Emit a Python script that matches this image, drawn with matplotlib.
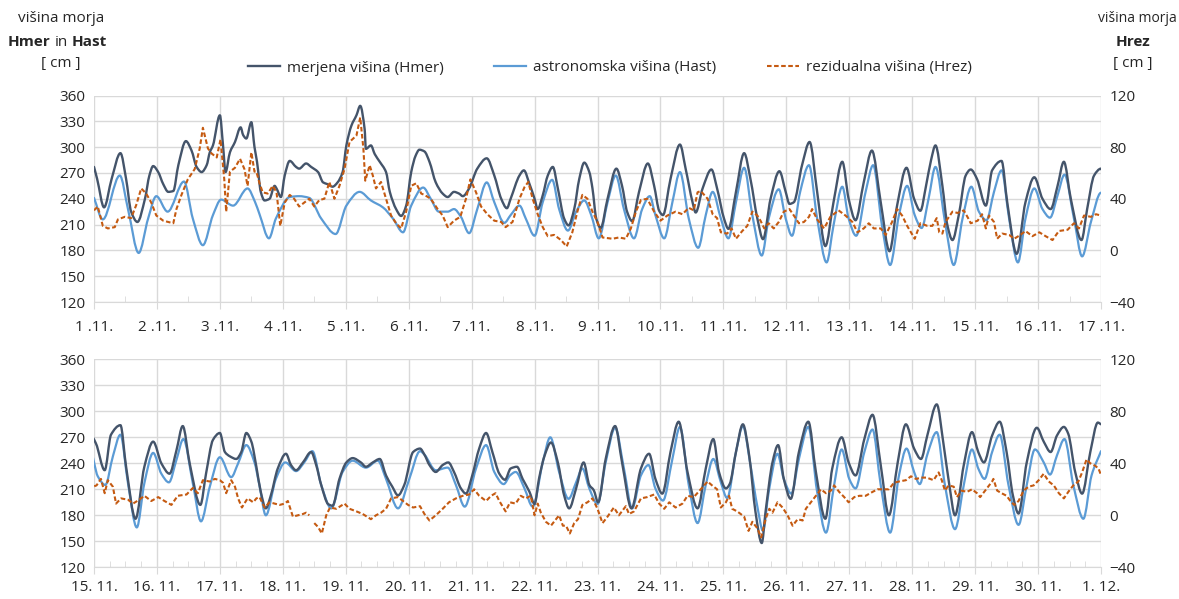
import numpy as np
import matplotlib
matplotlib.use("Agg")
import matplotlib.pyplot as plt
from matplotlib.lines import Line2D
from matplotlib.path import Path
from matplotlib.patches import PathPatch
from matplotlib.ticker import MultipleLocator

plt.rcParams["font.family"] = ["Open Sans", "DejaVu Sans"]
plt.rcParams["font.size"] = 11

# x = dan v mesecu (1.11. = 1, 1.12. = 31)
# merjena višina Hmer [cm]
HMER = [
    (1.00, 277), (1.05, 263), (1.16, 230), (1.28, 263), (1.42, 293), (1.51, 263), (1.59, 225),
    (1.69, 213), (1.81, 240), (1.88, 267), (1.94, 278), (2.02, 271), (2.10, 257), (2.18, 248),
    (2.26, 249), (2.34, 279), (2.46, 307), (2.55, 296), (2.63, 277), (2.71, 271), (2.79, 279),
    (2.84, 294), (2.89, 302), (3.00, 337), (3.05, 302), (3.09, 271), (3.16, 294), (3.24, 306),
    (3.33, 323), (3.37, 314), (3.42, 310), (3.50, 329), (3.55, 300), (3.59, 283), (3.65, 248),
    (3.71, 238), (3.79, 240), (3.87, 255), (3.90, 252), (3.97, 242), (4.03, 267), (4.11, 284),
    (4.21, 277), (4.26, 275), (4.37, 281), (4.45, 277), (4.56, 271), (4.64, 259), (4.71, 257),
    (4.79, 254), (4.87, 259), (4.95, 271), (5.01, 302), (5.09, 325), (5.17, 337), (5.23, 348),
    (5.30, 321), (5.32, 298), (5.40, 302), (5.46, 292), (5.54, 283), (5.64, 271), (5.70, 248),
    (5.80, 228), (5.88, 220), (5.96, 232), (6.04, 271), (6.11, 290), (6.17, 297), (6.25, 295),
    (6.33, 283), (6.43, 259), (6.54, 246), (6.62, 242), (6.72, 248), (6.80, 246), (6.86, 243),
    (6.96, 252), (7.09, 275), (7.24, 287), (7.36, 267), (7.47, 240), (7.56, 229), (7.62, 240),
    (7.76, 267), (7.83, 273), (7.92, 257), (8.00, 240), (8.05, 228), (8.13, 244), (8.21, 267),
    (8.29, 277), (8.37, 252), (8.47, 217), (8.54, 209), (8.63, 228), (8.71, 263), (8.79, 282),
    (8.87, 271), (8.92, 252), (8.98, 217), (9.05, 206), (9.16, 240), (9.30, 275), (9.39, 255),
    (9.47, 225), (9.55, 214), (9.66, 248), (9.80, 281), (9.90, 255), (9.98, 226), (10.04, 221),
    (10.16, 263), (10.31, 303), (10.40, 275), (10.51, 236), (10.56, 224), (10.67, 252),
    (10.81, 274), (10.90, 252), (11.01, 217), (11.08, 205), (11.20, 248), (11.33, 293),
    (11.43, 263), (11.54, 217), (11.63, 193), (11.75, 240), (11.89, 272), (11.99, 248),
    (12.05, 234), (12.12, 236), (12.25, 279), (12.37, 306), (12.49, 248), (12.62, 185),
    (12.75, 236), (12.89, 283), (12.99, 240), (13.10, 215), (13.23, 259), (13.36, 296),
    (13.50, 236), (13.64, 179), (13.76, 232), (13.91, 276), (14.03, 240), (14.13, 226),
    (14.22, 255), (14.30, 285), (14.37, 302), (14.48, 255), (14.56, 209), (14.64, 192),
    (14.74, 221), (14.85, 267), (14.93, 274), (15.03, 263), (15.17, 232), (15.27, 273),
    (15.42, 284), (15.51, 236), (15.66, 176), (15.80, 236), (15.94, 265), (16.07, 240),
    (16.20, 228), (16.31, 255), (16.41, 283), (16.52, 240), (16.69, 192), (16.78, 228),
    (16.89, 267), (17.00, 275), (17.08, 253), (17.16, 248), (17.26, 245), (17.34, 253),
    (17.42, 275), (17.50, 265), (17.58, 236), (17.65, 207), (17.73, 188), (17.81, 203),
    (17.92, 234), (18.05, 251), (18.13, 238), (18.21, 232), (18.32, 241), (18.45, 253),
    (18.53, 238), (18.61, 215), (18.72, 193), (18.79, 191), (18.90, 222), (19.01, 241),
    (19.11, 246), (19.24, 241), (19.32, 236), (19.43, 241), (19.54, 245), (19.64, 226),
    (19.74, 213), (19.83, 203), (19.93, 215), (20.07, 253), (20.18, 257), (20.25, 250),
    (20.33, 238), (20.43, 230), (20.54, 238), (20.63, 241), (20.72, 230), (20.83, 211),
    (20.91, 205), (21.01, 226), (21.12, 257), (21.23, 275), (21.33, 253), (21.44, 228),
    (21.53, 221), (21.62, 234), (21.72, 236), (21.81, 222), (21.92, 207), (22.00, 193),
    (22.07, 222), (22.16, 249), (22.26, 264), (22.37, 241), (22.47, 203), (22.55, 188),
    (22.66, 211), (22.78, 241), (22.87, 215), (22.94, 209), (23.01, 195), (23.13, 245),
    (23.28, 283), (23.39, 241), (23.54, 188), (23.69, 234), (23.82, 251), (23.92, 222),
    (24.03, 205), (24.16, 253), (24.29, 288), (24.43, 230), (24.59, 188), (24.72, 234),
    (24.84, 268), (24.93, 230), (25.04, 211), (25.10, 216), (25.20, 253), (25.31, 285),
    (25.41, 249), (25.51, 184), (25.61, 148), (25.67, 184), (25.78, 241), (25.87, 261),
    (25.96, 222), (26.07, 199), (26.20, 253), (26.35, 288), (26.47, 230), (26.62, 176),
    (26.73, 234), (26.88, 270), (26.99, 241), (27.10, 226), (27.24, 268), (27.37, 296),
    (27.50, 238), (27.63, 180), (27.77, 241), (27.90, 285), (28.03, 257), (28.14, 245),
    (28.24, 272), (28.39, 308), (28.50, 261), (28.59, 215), (28.68, 180), (28.82, 238),
    (28.95, 276), (29.05, 253), (29.14, 241), (29.27, 272), (29.39, 288), (29.50, 253),
    (29.60, 203), (29.69, 182), (29.82, 241), (29.98, 281), (30.09, 265), (30.20, 253),
    (30.30, 272), (30.41, 282), (30.48, 274), (30.59, 230), (30.70, 205), (30.83, 253),
    (30.95, 287), (31.00, 285),
]

# astronomska višina Hast [cm]
HAST = [
    (1.00, 241), (1.14, 216), (1.41, 267), (1.54, 228), (1.71, 177), (1.86, 217), (1.99, 243),
    (2.17, 225), (2.43, 260), (2.57, 217), (2.73, 186), (2.89, 221), (3.02, 239), (3.21, 232),
    (3.44, 252), (3.56, 236), (3.63, 222), (3.78, 194), (3.89, 217), (4.11, 242), (4.26, 243),
    (4.42, 241), (4.61, 217), (4.84, 199), (5.01, 232), (5.22, 248), (5.40, 238), (5.59, 230),
    (5.75, 217), (5.91, 201), (6.04, 232), (6.23, 253), (6.35, 240), (6.48, 225), (6.62, 225),
    (6.72, 228), (6.83, 219), (6.96, 200), (7.09, 228), (7.24, 259), (7.36, 236), (7.52, 212),
    (7.62, 221), (7.76, 232), (7.86, 217), (8.00, 197), (8.13, 236), (8.28, 262), (8.39, 228),
    (8.53, 203), (8.66, 225), (8.79, 238), (8.90, 221), (9.02, 194), (9.16, 236), (9.29, 267),
    (9.42, 228), (9.58, 194), (9.71, 228), (9.83, 243), (9.92, 221), (10.06, 194), (10.19, 236),
    (10.31, 271), (10.45, 217), (10.60, 183), (10.72, 221), (10.83, 248), (10.96, 217),
    (11.08, 194), (11.20, 236), (11.33, 276), (11.46, 221), (11.61, 174), (11.72, 217),
    (11.88, 251), (11.99, 217), (12.09, 197), (12.22, 248), (12.36, 279), (12.49, 217),
    (12.64, 166), (12.75, 209), (12.89, 254), (12.99, 217), (13.11, 197), (13.26, 248),
    (13.38, 279), (13.52, 209), (13.65, 163), (13.79, 221), (13.92, 255), (14.04, 221),
    (14.15, 206), (14.26, 240), (14.37, 277), (14.53, 209), (14.66, 163), (14.80, 217),
    (14.94, 254), (15.06, 225), (15.18, 215), (15.30, 248), (15.42, 273), (15.54, 217),
    (15.68, 166), (15.80, 217), (15.94, 252), (16.07, 228), (16.19, 218), (16.31, 244),
    (16.42, 268), (16.57, 217), (16.70, 173), (16.84, 213), (17.00, 247), (17.18, 224),
    (17.29, 240), (17.42, 261), (17.55, 241), (17.63, 214), (17.73, 180), (17.89, 222),
    (18.04, 241), (18.21, 231), (18.34, 241), (18.47, 254), (18.61, 215), (18.77, 188),
    (18.95, 230), (19.11, 243), (19.32, 235), (19.51, 243), (19.64, 222), (19.83, 188),
    (20.01, 222), (20.18, 254), (20.25, 250), (20.43, 232), (20.62, 235), (20.75, 215),
    (20.89, 190), (21.07, 234), (21.23, 261), (21.36, 230), (21.51, 216), (21.61, 226),
    (21.70, 230), (21.84, 211), (21.97, 190), (22.13, 241), (22.25, 270), (22.39, 230),
    (22.54, 199), (22.66, 218), (22.76, 234), (22.87, 211), (23.00, 193), (23.13, 241),
    (23.28, 281), (23.42, 234), (23.55, 188), (23.69, 226), (23.81, 238), (23.92, 211),
    (24.04, 197), (24.19, 245), (24.31, 282), (24.45, 215), (24.59, 171), (24.72, 215),
    (24.84, 245), (24.96, 218), (25.06, 200), (25.20, 253), (25.31, 283), (25.43, 238),
    (25.54, 190), (25.63, 162), (25.72, 207), (25.86, 251), (25.96, 222),
    (26.08, 205), (26.20, 245), (26.35, 282), (26.49, 207), (26.63, 160), (26.76, 215),
    (26.88, 256), (27.00, 222), (27.10, 211), (27.24, 253), (27.37, 279), (27.50, 215),
    (27.65, 160), (27.79, 226), (27.91, 257), (28.03, 230), (28.12, 216), (28.24, 250),
    (28.39, 276), (28.52, 215), (28.68, 164), (28.82, 215), (28.95, 256), (29.05, 234),
    (29.15, 222), (29.27, 253), (29.39, 273), (29.53, 215), (29.69, 169), (29.82, 215),
    (29.95, 256), (30.09, 241), (30.19, 227), (30.30, 249), (30.42, 268), (30.56, 215),
    (30.72, 176), (30.85, 226), (31.00, 254),
]

# rezidualna višina Hrez [cm], desna os (nan = manjkajoči podatki)
HREZ = [
    (1.00, 31), (1.06, 34), (1.14, 19), (1.22, 17), (1.33, 18), (1.38, 24), (1.49, 26),
    (1.59, 25), (1.67, 35), (1.75, 48), (1.83, 44), (1.91, 37), (1.99, 27), (2.10, 23),
    (2.18, 22), (2.26, 21), (2.31, 32), (2.39, 43), (2.49, 55), (2.60, 63), (2.68, 79),
    (2.73, 95), (2.81, 79), (2.87, 75), (2.95, 72), (3.01, 86), (3.07, 55), (3.10, 30),
    (3.16, 61), (3.24, 64), (3.32, 71), (3.39, 63), (3.44, 50), (3.50, 76), (3.55, 61),
    (3.58, 61), (3.63, 52), (3.68, 45), (3.76, 44), (3.84, 50), (3.90, 45), (3.96, 19),
    (4.03, 37), (4.11, 43), (4.18, 40), (4.26, 34), (4.34, 37), (4.42, 40), (4.50, 34),
    (4.58, 39), (4.66, 40), (4.74, 53), (4.82, 40), (4.90, 50), (4.98, 63), (5.06, 84),
    (5.17, 89), (5.23, 103), (5.28, 79), (5.31, 54), (5.38, 66), (5.43, 58), (5.48, 48),
    (5.56, 53), (5.64, 40), (5.72, 27), (5.80, 21), (5.88, 17), (5.96, 30), (6.04, 50),
    (6.12, 52), (6.20, 44), (6.25, 43), (6.35, 40), (6.46, 32), (6.54, 27), (6.62, 18),
    (6.72, 23), (6.82, 26), (6.91, 40), (6.98, 55), (7.07, 45), (7.15, 34), (7.25, 28),
    (7.36, 23), (7.47, 22), (7.54, 18), (7.65, 22), (7.76, 40), (7.84, 49), (7.90, 53),
    (7.97, 40), (8.05, 28), (8.13, 18), (8.21, 11), (8.31, 12), (8.42, 8), (8.51, 3),
    (8.60, 14), (8.68, 30), (8.76, 43), (8.84, 40), (8.92, 30), (9.00, 22), (9.08, 10),
    (9.24, 9), (9.34, 10), (9.45, 9), (9.53, 17), (9.61, 30), (9.69, 39), (9.79, 40),
    (9.90, 30), (10.00, 23), (10.11, 27), (10.24, 30), (10.35, 28), (10.45, 33), (10.53, 31),
    (10.59, 45), (10.64, 46), (10.75, 40), (10.83, 28), (10.90, 25), (10.96, 14), (11.06, 13),
    (11.13, 17), (11.20, 9), (11.30, 15), (11.38, 19), (11.46, 30), (11.54, 27), (11.59, 23),
    (11.65, 17), (11.72, 21), (11.80, 17), (11.88, 22), (11.96, 30), (12.05, 32), (12.12, 27),
    (12.20, 21), (12.28, 22), (12.36, 26), (12.41, 32), (12.49, 24), (12.60, 17), (12.70, 26),
    (12.83, 31), (12.94, 27), (13.05, 22), (13.13, 14), (13.23, 17), (13.31, 21), (13.39, 17),
    (13.50, 17), (13.58, 12), (13.68, 22), (13.76, 32), (13.84, 27), (13.92, 19), (14.04, 9),
    (14.13, 21), (14.24, 19), (14.32, 19), (14.39, 25), (14.43, 14), (14.48, 13), (14.53, 22),
    (14.64, 30), (14.72, 29), (14.82, 31), (14.90, 24), (14.93, 21), (15.04, 23), (15.11, 28),
    (15.17, 17), (15.22, 27), (15.30, 22), (15.35, 9), (15.43, 13), (15.54, 12), (15.62, 9),
    (15.72, 12), (15.80, 15), (15.91, 11), (16.02, 14), (16.12, 11), (16.23, 8), (16.33, 15),
    (16.47, 16), (16.57, 21), (16.65, 17), (16.73, 27), (16.84, 26), (16.92, 28), (17.00, 27),
    (17.05, 25), (17.10, 17), (17.18, 27), (17.24, 22), (17.29, 13), (17.35, 6), (17.44, 13),
    (17.53, 10), (17.58, 13), (17.63, 14), (17.71, 6), (17.79, 10), (17.87, 9), (17.95, 8),
    (18.03, 9), (18.08, 11), (18.16, -1), (18.24, 0), (18.32, 1), (18.37, 2), (18.42, 0),
    (18.46, np.nan), (18.50, -6), (18.56, -9), (18.62, -14), (18.69, 0), (18.75, 6),
    (18.85, 5), (18.98, 9), (19.06, 5), (19.17, 3), (19.27, 1), (19.40, -3), (19.48, 0),
    (19.56, 2), (19.64, 5), (19.72, 13), (19.83, 14), (19.91, 11), (19.99, 8), (20.07, 6),
    (20.18, 7), (20.25, 1), (20.33, -4), (20.43, 0), (20.54, 5), (20.64, 10), (20.75, 13),
    (20.86, 15), (20.96, 16), (21.04, 20), (21.12, 15), (21.23, 11), (21.31, 15), (21.38, 17),
    (21.44, 11), (21.54, 3), (21.61, 10), (21.70, 9), (21.78, 15), (21.86, 13), (21.94, 15),
    (22.00, 0), (22.05, 9), (22.10, 2), (22.18, -5), (22.26, -8), (22.34, -3), (22.39, 0),
    (22.45, -8), (22.50, -8), (22.56, -14), (22.63, -6), (22.69, -3), (22.76, 8), (22.84, 10),
    (22.92, 13), (23.00, 5), (23.08, -6), (23.16, -1), (23.26, 6), (23.34, 0), (23.45, 7),
    (23.50, 1), (23.58, 3), (23.69, 13), (23.79, 14), (23.90, 16), (23.98, 9), (24.06, 5),
    (24.14, 10), (24.24, 6), (24.35, 9), (24.43, 15), (24.53, 14), (24.64, 20), (24.75, 26),
    (24.82, 23), (24.90, 20), (24.96, 6), (25.04, 10), (25.09, 15), (25.14, 5), (25.22, 3),
    (25.33, -1), (25.40, -12), (25.46, -5), (25.54, -10), (25.60, -17), (25.67, -3),
    (25.73, 5), (25.78, 2), (25.86, 10), (25.94, 6), (26.02, 0), (26.10, -8), (26.18, -3),
    (26.26, -4), (26.31, 5), (26.39, 10), (26.47, 15), (26.55, 20), (26.63, 17), (26.71, 19),
    (26.76, 23), (26.84, 18), (26.92, 14), (26.99, 10), (27.08, 14), (27.16, 15), (27.26, 15),
    (27.37, 18), (27.45, 20), (27.55, 20), (27.63, 20), (27.71, 25), (27.79, 26), (27.90, 27),
    (27.98, 30), (28.06, 28), (28.16, 29), (28.23, 29), (28.34, 27), (28.42, 33), (28.47, 27),
    (28.52, 19), (28.58, 23), (28.66, 22), (28.71, 14), (28.79, 19), (28.87, 18), (28.95, 20),
    (29.03, 17), (29.08, 14), (29.16, 19), (29.27, 26), (29.29, 28), (29.35, 19), (29.42, 17),
    (29.50, 15), (29.56, 11), (29.62, 8), (29.69, 11), (29.77, 19), (29.85, 22), (29.93, 23),
    (30.01, 27), (30.09, 32), (30.17, 26), (30.25, 23), (30.33, 17), (30.41, 13), (30.48, 18),
    (30.56, 23), (30.64, 26), (30.70, 33), (30.77, 43), (30.83, 40), (30.91, 38), (30.96, 36),
    (31.00, 31),
]

TOP_DAYS = list(range(1, 18))
TOP_LABELS = ["1 .11.", "2 .11.", "3 .11.", "4 .11.", "5 .11.", "6 .11.", "7 .11.", "8 .11.",
              "9 .11.", "10 .11.", "11 .11.", "12 .11.", "13 .11.", "14 .11.", "15 .11.",
              "16 .11.", "17 .11."]
BOT_DAYS = list(range(15, 32))
BOT_LABELS = ["15. 11.", "16. 11.", "17. 11.", "18. 11.", "19. 11.", "20. 11.", "21. 11.",
              "22. 11.", "23. 11.", "24. 11.", "25. 11.", "26. 11.", "27. 11.", "28. 11.",
              "29. 11.", "30. 11.", "1. 12."]
LEFT_TICKS = [120, 150, 180, 210, 240, 270, 300, 330, 360]
RIGHT_TICKS = [-40, 0, 40, 80, 120]
LEG_LABELS = ["merjena višina (Hmer)", "astronomska višina (Hast)", "rezidualna višina (Hrez)"]

C_MER, C_AST, C_REZ = "#44546A", "#5B9BD5", "#C55A11"
GRID, TXT = "#D9D9D9", "#262626"
REZ_LS = (0, (2.2, 1.2))

hmer_t, hmer_v = np.array(HMER, dtype=float).T
hast_t, hast_v = np.array(HAST, dtype=float).T
hrez_t, hrez_v = np.array(HREZ, dtype=float).T


def smooth_path(t, v):
    # gladka črta (kot "smoothed line" v Excelu): Bezierjevi odseki skozi izmerjene točke
    d = np.diff(v) / np.diff(t)
    m = np.zeros(len(t))
    m[0], m[-1] = d[0], d[-1]
    for i in range(1, len(t) - 1):
        if d[i - 1] * d[i] > 0:
            m[i] = 2.0 / (1.0 / d[i - 1] + 1.0 / d[i])
    verts, codes = [(t[0], v[0])], [Path.MOVETO]
    for i in range(len(t) - 1):
        h = t[i + 1] - t[i]
        verts += [(t[i] + h / 3, v[i] + m[i] * h / 3),
                  (t[i + 1] - h / 3, v[i + 1] - m[i + 1] * h / 3),
                  (t[i + 1], v[i + 1])]
        codes += [Path.CURVE4] * 3
    return Path(verts, codes)


W, H = 1179, 599
fig = plt.figure(figsize=(W / 100, H / 100), dpi=100)


def rect(x0, y0, x1, y1):
    return [x0 / W, 1 - y1 / H, (x1 - x0) / W, (y1 - y0) / H]


def panel(r, days, labels, minor, xpad):
    ax = fig.add_axes(r)
    ax.add_patch(PathPatch(smooth_path(hast_t, hast_v), fill=False, edgecolor=C_AST,
                           lw=1.6, zorder=2, capstyle="round", joinstyle="round"))
    ax.add_patch(PathPatch(smooth_path(hmer_t, hmer_v), fill=False, edgecolor=C_MER,
                           lw=1.7, zorder=3, capstyle="round", joinstyle="round"))
    ax.set_xlim(days[0], days[-1])
    ax.set_ylim(LEFT_TICKS[0], LEFT_TICKS[-1])
    ax.set_yticks(LEFT_TICKS)
    ax.set_xticks(days)
    ax.set_xticklabels(labels)
    ax.xaxis.set_minor_locator(MultipleLocator(minor))
    ax.grid(True, which="major", color=GRID, lw=1.0)
    for s in ["top", "left", "right"]:
        ax.spines[s].set_visible(False)
    ax.spines["bottom"].set_color(GRID)
    ax.tick_params(axis="y", length=0, pad=6, labelcolor=TXT)
    ax.tick_params(axis="x", which="major", length=5, color=GRID, pad=xpad, labelcolor=TXT)
    ax.tick_params(axis="x", which="minor", length=4, direction="in", color=GRID)
    axr = ax.twinx()
    axr.plot(hrez_t, hrez_v, color=C_REZ, lw=1.5, ls=REZ_LS, zorder=4)
    axr.set_xlim(days[0], days[-1])
    axr.set_ylim(RIGHT_TICKS[0], RIGHT_TICKS[-1])
    axr.set_yticks(RIGHT_TICKS)
    for s in axr.spines.values():
        s.set_visible(False)
    axr.tick_params(axis="y", length=0, pad=6, labelcolor=TXT)
    return ax, axr


panel(rect(94, 95.5, 1101, 302), TOP_DAYS, TOP_LABELS, 0.5, 8)
panel(rect(94, 359.3, 1101, 567.3), BOT_DAYS, BOT_LABELS, 0.25, 4)

handles = [Line2D([], [], color=C_MER, lw=1.7),
           Line2D([], [], color=C_AST, lw=1.6),
           Line2D([], [], color=C_REZ, lw=1.5, ls=REZ_LS)]
fig.legend(handles, LEG_LABELS, loc="center", bbox_to_anchor=(610 / W, 1 - 68 / H),
           ncol=3, frameon=False, handlelength=2.1, handletextpad=0.45, columnspacing=3.3,
           labelcolor=TXT)

# oznake osi
fig.text(61 / W, 1 - 18 / H, "višina morja", ha="center", va="center", color=TXT)
fig.text(50 / W, 1 - 42 / H, "Hmer", ha="right", va="center", color=TXT, weight="bold")
fig.text(61 / W, 1 - 42 / H, "in", ha="center", va="center", color=TXT)
fig.text(72 / W, 1 - 42 / H, "Hast", ha="left", va="center", color=TXT, weight="bold")
fig.text(61 / W, 1 - 64 / H, "[ cm ]", ha="center", va="center", color=TXT)
fig.text(1177 / W, 1 - 18 / H, "višina morja", ha="right", va="center", color=TXT,
         fontsize=10)
fig.text(1133 / W, 1 - 42 / H, "Hrez", ha="center", va="center", color=TXT, weight="bold")
fig.text(1133 / W, 1 - 64 / H, "[ cm ]", ha="center", va="center", color=TXT)

fig.savefig("out.png", dpi=100)
